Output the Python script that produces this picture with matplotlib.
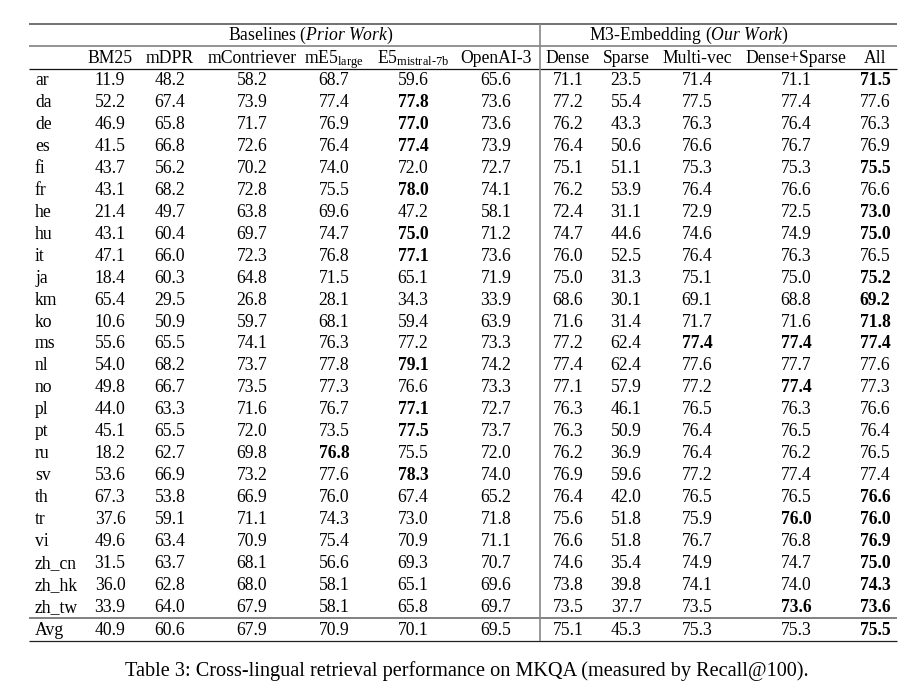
import numpy as np
import matplotlib
matplotlib.use('Agg')
import matplotlib.pyplot as plt

plt.rcParams['font.family'] = ['Liberation Serif', 'DejaVu Serif']
plt.rcParams['mathtext.fontset'] = 'custom'
plt.rcParams['mathtext.rm'] = 'Liberation Serif'
plt.rcParams['mathtext.it'] = 'Liberation Serif:italic'
plt.rcParams['mathtext.bf'] = 'Liberation Serif:bold'

##############
#table values#
##############
langs = ['ar', 'da', 'de', 'es', 'fi', 'fr', 'he', 'hu', 'it', 'ja', 'km', 'ko', 'ms',
         'nl', 'no', 'pl', 'pt', 'ru', 'sv', 'th', 'tr', 'vi', 'zh_cn', 'zh_hk', 'zh_tw', 'Avg']

headers = ['BM25', 'mDPR', 'mContriever', r'mE5$_{\mathrm{large}}$',
           r'E5$_{\mathrm{mistral\text{-}7b}}$', 'OpenAI-3',
           'Dense', 'Sparse', 'Multi-vec', 'Dense+Sparse', 'All']

bm25 = [11.9, 52.2, 46.9, 41.5, 43.7, 43.1, 21.4, 43.1, 47.1, 18.4, 65.4, 10.6, 55.6,
        54.0, 49.8, 44.0, 45.1, 18.2, 53.6, 67.3, 37.6, 49.6, 31.5, 36.0, 33.9, 40.9]
mdpr = [48.2, 67.4, 65.8, 66.8, 56.2, 68.2, 49.7, 60.4, 66.0, 60.3, 29.5, 50.9, 65.5,
        68.2, 66.7, 63.3, 65.5, 62.7, 66.9, 53.8, 59.1, 63.4, 63.7, 62.8, 64.0, 60.6]
mcontriever = [58.2, 73.9, 71.7, 72.6, 70.2, 72.8, 63.8, 69.7, 72.3, 64.8, 26.8, 59.7, 74.1,
               73.7, 73.5, 71.6, 72.0, 69.8, 73.2, 66.9, 71.1, 70.9, 68.1, 68.0, 67.9, 67.9]
me5_large = [68.7, 77.4, 76.9, 76.4, 74.0, 75.5, 69.6, 74.7, 76.8, 71.5, 28.1, 68.1, 76.3,
             77.8, 77.3, 76.7, 73.5, 76.8, 77.6, 76.0, 74.3, 75.4, 56.6, 58.1, 58.1, 70.9]
e5_mistral = [59.6, 77.8, 77.0, 77.4, 72.0, 78.0, 47.2, 75.0, 77.1, 65.1, 34.3, 59.4, 77.2,
              79.1, 76.6, 77.1, 77.5, 75.5, 78.3, 67.4, 73.0, 70.9, 69.3, 65.1, 65.8, 70.1]
openai3 = [65.6, 73.6, 73.6, 73.9, 72.7, 74.1, 58.1, 71.2, 73.6, 71.9, 33.9, 63.9, 73.3,
           74.2, 73.3, 72.7, 73.7, 72.0, 74.0, 65.2, 71.8, 71.1, 70.7, 69.6, 69.7, 69.5]
dense = [71.1, 77.2, 76.2, 76.4, 75.1, 76.2, 72.4, 74.7, 76.0, 75.0, 68.6, 71.6, 77.2,
         77.4, 77.1, 76.3, 76.3, 76.2, 76.9, 76.4, 75.6, 76.6, 74.6, 73.8, 73.5, 75.1]
sparse = [23.5, 55.4, 43.3, 50.6, 51.1, 53.9, 31.1, 44.6, 52.5, 31.3, 30.1, 31.4, 62.4,
          62.4, 57.9, 46.1, 50.9, 36.9, 59.6, 42.0, 51.8, 51.8, 35.4, 39.8, 37.7, 45.3]
multivec = [71.4, 77.5, 76.3, 76.6, 75.3, 76.4, 72.9, 74.6, 76.4, 75.1, 69.1, 71.7, 77.4,
            77.6, 77.2, 76.5, 76.4, 76.4, 77.2, 76.5, 75.9, 76.7, 74.9, 74.1, 73.5, 75.3]
dense_sparse = [71.1, 77.4, 76.4, 76.7, 75.3, 76.6, 72.5, 74.9, 76.3, 75.0, 68.8, 71.6, 77.4,
                77.7, 77.4, 76.3, 76.5, 76.2, 77.4, 76.5, 76.0, 76.8, 74.7, 74.0, 73.6, 75.3]
all_m3 = [71.5, 77.6, 76.3, 76.9, 75.5, 76.6, 73.0, 75.0, 76.5, 75.2, 69.2, 71.8, 77.4,
          77.6, 77.3, 76.6, 76.4, 76.5, 77.4, 76.6, 76.0, 76.9, 75.0, 74.3, 73.6, 75.5]

caption = 'Table 3: Cross-lingual retrieval performance on MKQA (measured by Recall@100).'

table = np.array([bm25, mdpr, mcontriever, me5_large, e5_mistral, openai3,
                  dense, sparse, multivec, dense_sparse, all_m3]).T

########
#layout#
########
col_x = [110, 170, 252, 334, 413, 496, 568, 626, 697, 796, 875]
fs = 12.7

fig = plt.figure(figsize=(9.21, 6.96), dpi=100)
ax = fig.add_axes([0, 0, 1, 1])
ax.set_xlim(0, 921)
ax.set_ylim(696, 0)
ax.axis('off')

x0, x1, xsep = 29, 897, 540
y_top, y_grp, y_head, y_avg, y_bot = 24, 46, 69, 618, 641

ax.hlines(y_top, x0, x1, color='#666666', lw=1.3)
ax.hlines(y_grp, x0, x1, color='#777777', lw=1.1)
ax.hlines(y_head, x0, x1, color='#111111', lw=0.9)
ax.hlines(y_avg, x0, x1, color='#777777', lw=1.3)
ax.hlines(y_bot, x0, x1, color='#222222', lw=0.9)
ax.vlines(xsep, y_top, y_bot, color='#888888', lw=1.2)

# group headers
ax.text(311, 40, r'Baselines ($\mathit{Prior\ Work}$)', ha='center', va='baseline', fontsize=fs)
ax.text(689, 40, r'M3-Embedding ($\mathit{Our\ Work}$)', ha='center', va='baseline', fontsize=fs)

# column headers
for x, h in zip(col_x, headers):
    ax.text(x, 63, h, ha='center', va='baseline', fontsize=fs)

# rows, bold = best in row
row_h = (612 - 85) / 24.0
for i, lang in enumerate(langs):
    yb = 85 + i * row_h if lang != 'Avg' else 635
    ax.text(35, yb, lang, ha='left', va='baseline', fontsize=fs)
    best = table[i].max()
    for j, v in enumerate(table[i]):
        w = 'bold' if v == best else 'normal'
        ax.text(col_x[j], yb, '%.1f' % v, ha='center', va='baseline', fontsize=fs, fontweight=w)

ax.text(467, 676, caption, ha='center', va='baseline', fontsize=14.6)

plt.savefig('out.png', dpi=100)
